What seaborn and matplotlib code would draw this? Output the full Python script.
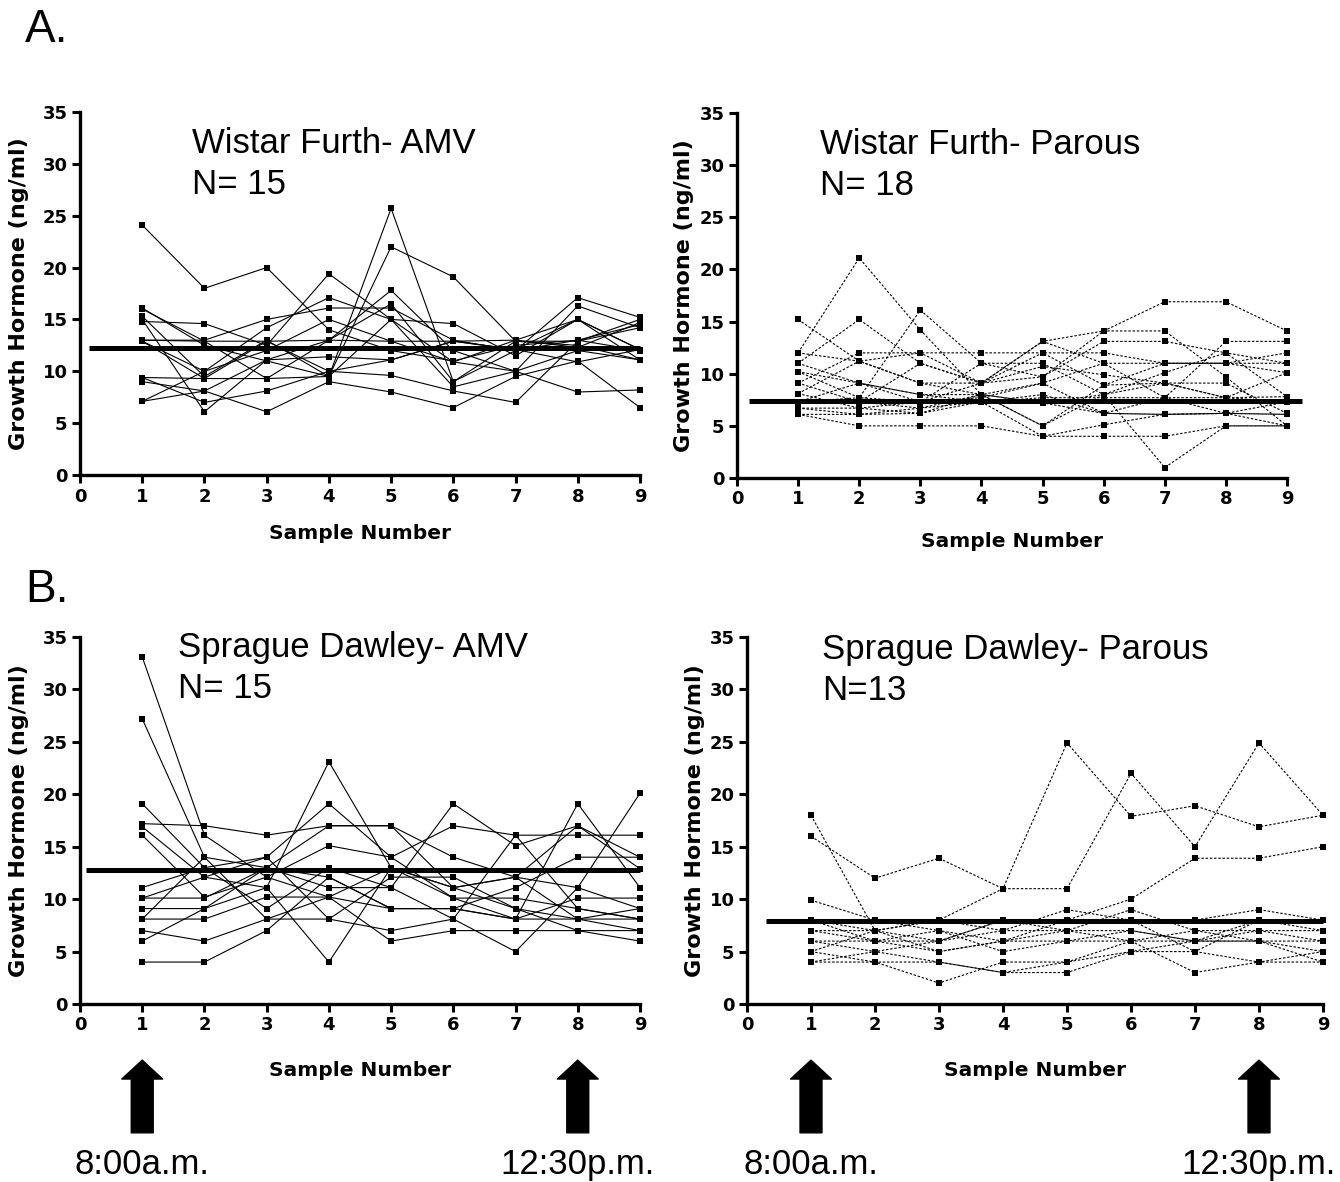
"""Growth hormone sampling profiles for Wistar Furth and Sprague Dawley rats."""
import matplotlib

matplotlib.use("Agg")
import matplotlib.pyplot as plt
import pandas as pd
import seaborn as sns

# ---------------------------------------------------------------- data
samples = [1, 2, 3, 4, 5, 6, 7, 8, 9]

wf_amv = [
    [24.1, 18.0, 20.0, 14.0, 12.0, 11.0, 12.5, 13.0, 12.0],
    [16.1, 12.5, 11.0, 9.5, 25.7, 9.0, 12.0, 13.0, 14.5],
    [15.3, 9.5, 13.0, 9.5, 22.0, 19.1, 12.9, 12.5, 11.1],
    [14.8, 14.6, 12.5, 19.4, 15.0, 8.5, 10.0, 16.3, 14.2],
    [13.0, 13.0, 15.0, 16.1, 16.1, 13.0, 12.0, 17.1, 15.2],
    [12.9, 10.0, 14.2, 17.1, 15.0, 14.6, 11.5, 15.0, 12.1],
    [9.4, 9.3, 9.3, 9.5, 15.0, 10.9, 13.0, 12.3, 14.7],
    [9.0, 8.1, 11.1, 13.0, 17.8, 12.0, 10.0, 12.0, 11.1],
    [7.1, 10.0, 12.0, 15.0, 12.9, 10.9, 10.0, 8.0, 8.2],
    [7.1, 8.1, 6.1, 9.0, 8.0, 6.5, 9.5, 11.0, 6.5],
    [15.0, 6.1, 11.1, 11.4, 11.1, 12.9, 12.1, 10.9, 12.1],
    [13.0, 12.9, 9.3, 13.0, 16.5, 9.0, 12.9, 12.9, 14.2],
    [9.4, 7.0, 8.1, 10.0, 9.6, 8.1, 7.0, 12.9, 15.0],
    [16.0, 12.9, 12.9, 13.0, 12.9, 12.9, 12.1, 15.0, 11.1],
    [12.9, 9.3, 12.9, 10.0, 11.1, 12.9, 13.0, 15.0, 12.1],
]

wf_parous = [
    [15.2, 11.2, 9.1, 8.0, 7.2, 6.2, 6.1, 6.2, 6.1],
    [12.0, 21.1, 14.2, 8.0, 5.0, 8.0, 10.1, 12.0, 11.0],
    [11.0, 15.2, 11.0, 9.1, 13.1, 14.1, 16.9, 16.9, 14.1],
    [10.2, 7.7, 16.1, 11.0, 9.7, 14.1, 14.1, 9.7, 5.0],
    [9.1, 12.0, 12.0, 12.0, 12.0, 8.9, 11.0, 11.0, 11.0],
    [8.1, 11.2, 9.1, 9.1, 10.7, 9.9, 9.1, 7.7, 10.1],
    [7.3, 9.1, 8.0, 8.0, 9.1, 6.2, 7.7, 13.1, 13.1],
    [6.7, 6.1, 6.2, 8.0, 7.2, 8.0, 1.0, 5.0, 5.0],
    [6.1, 5.0, 5.0, 5.0, 4.0, 4.0, 4.0, 5.0, 5.0],
    [7.3, 7.7, 7.3, 7.7, 9.1, 11.0, 11.0, 11.0, 10.1],
    [12.0, 11.2, 12.0, 9.1, 12.0, 12.0, 11.0, 11.0, 12.0],
    [6.7, 6.7, 6.2, 7.3, 8.0, 6.2, 6.1, 6.2, 6.1],
    [11.0, 9.1, 7.3, 11.0, 11.0, 8.0, 9.1, 9.1, 6.2],
    [9.1, 7.3, 6.7, 8.0, 5.0, 8.9, 9.1, 7.7, 7.3],
    [6.1, 6.1, 6.7, 7.3, 7.7, 7.7, 7.7, 6.2, 5.0],
    [7.3, 7.3, 11.0, 9.1, 9.7, 13.1, 13.1, 12.0, 7.8],
    [8.1, 6.7, 7.3, 9.1, 13.1, 11.0, 7.7, 7.7, 7.8],
    [10.2, 9.1, 8.0, 7.3, 4.0, 5.1, 6.1, 6.2, 7.3],
]

sd_amv = [
    [33.1, 16.1, 12.1, 10.2, 13.0, 11.1, 9.1, 8.1, 7.0],
    [27.2, 14.0, 13.0, 17.0, 17.0, 11.1, 12.1, 17.0, 14.0],
    [19.1, 13.0, 14.0, 19.1, 14.0, 10.1, 8.1, 19.1, 11.1],
    [17.2, 17.0, 16.1, 17.0, 17.0, 14.0, 12.1, 11.1, 9.1],
    [16.9, 12.1, 11.1, 23.1, 13.0, 10.1, 10.1, 9.1, 8.1],
    [16.1, 10.2, 12.1, 15.1, 14.0, 17.0, 16.1, 16.1, 16.1],
    [11.1, 13.0, 9.1, 13.0, 11.1, 19.1, 15.1, 17.0, 12.9],
    [10.1, 10.1, 13.0, 12.1, 9.1, 9.1, 11.1, 14.0, 14.0],
    [9.1, 9.1, 13.0, 11.1, 11.1, 8.1, 5.0, 11.1, 20.1],
    [8.1, 8.1, 10.2, 10.2, 9.1, 9.1, 8.1, 10.1, 10.1],
    [8.1, 14.0, 8.1, 8.1, 12.1, 12.1, 9.1, 7.0, 7.0],
    [7.0, 6.0, 8.1, 10.2, 6.0, 7.0, 7.0, 7.0, 6.0],
    [6.0, 9.1, 11.1, 4.0, 13.0, 11.1, 12.1, 8.1, 9.1],
    [4.0, 4.0, 7.0, 12.1, 9.1, 9.1, 8.1, 8.1, 8.1],
    [10.1, 12.1, 14.0, 8.1, 7.0, 8.1, 16.1, 9.1, 8.1],
]

sd_parous = [
    [16.0, 12.0, 13.9, 11.0, 11.0, 22.0, 15.0, 24.9, 18.0],
    [18.0, 7.0, 8.0, 11.0, 24.9, 17.9, 18.9, 16.9, 18.0],
    [9.9, 8.0, 7.0, 6.0, 8.0, 10.0, 13.9, 13.9, 15.0],
    [8.0, 7.0, 6.0, 7.0, 9.0, 8.0, 8.0, 9.0, 8.0],
    [7.0, 6.0, 5.0, 6.0, 7.0, 9.0, 7.0, 7.0, 7.0],
    [6.0, 5.0, 4.0, 3.0, 3.0, 5.0, 6.0, 7.0, 6.0],
    [5.0, 4.0, 2.0, 4.0, 4.0, 5.0, 5.0, 4.0, 4.0],
    [4.0, 4.0, 4.0, 3.0, 4.0, 6.0, 3.0, 4.0, 5.0],
    [6.0, 6.0, 7.0, 5.0, 6.0, 6.0, 6.0, 6.0, 6.0],
    [5.0, 7.0, 5.0, 6.0, 6.0, 7.0, 6.0, 8.0, 7.0],
    [7.0, 7.0, 8.0, 7.0, 7.0, 7.0, 6.0, 6.0, 5.0],
    [8.0, 6.0, 6.0, 8.0, 8.0, 8.0, 5.0, 8.0, 8.0],
    [4.0, 5.0, 6.0, 8.0, 7.0, 6.0, 7.0, 6.0, 4.0],
]

group_means = [12.2, 7.4, 12.8, 7.9]
group_titles = [
    "Wistar Furth- AMV\nN= 15",
    "Wistar Furth- Parous\nN= 18",
    "Sprague Dawley- AMV\nN= 15",
    "Sprague Dawley- Parous\nN=13",
]
panel_letters = ["A.", "B."]
arrow_samples = [1, 8]
arrow_labels = ["8:00a.m.", "12:30p.m."]
x_ticks = [0, 1, 2, 3, 4, 5, 6, 7, 8, 9]
y_ticks = [0, 5, 10, 15, 20, 25, 30, 35]


def to_long(profiles):
    rows = []
    for animal, values in enumerate(profiles):
        for sample, value in zip(samples, values):
            rows.append({"animal": animal, "sample": sample, "gh": value})
    return pd.DataFrame(rows)


# ---------------------------------------------------------------- layout
W, H = 1340, 1182
sns.set_style("ticks")
plt.rcParams.update({
    "font.family": ["DejaVu Sans"],
    "text.color": "black",
    "axes.labelcolor": "black",
    "axes.edgecolor": "black",
    "xtick.color": "black",
    "ytick.color": "black",
})
fig = plt.figure(figsize=(W / 100, H / 100), dpi=100)

# left, top, right, bottom in pixels
boxes = [(80, 112, 640, 475), (737, 113, 1287, 478), (80, 637, 640, 1004), (747, 637, 1323, 1004)]
panels = [
    dict(data=wf_amv, ls="-", mean_span=(0.15, 9.0), title_xy=(0.2, 0.958), ylab_x=-0.091, xlab_pad=13),
    dict(data=wf_parous, ls=(0, (2.2, 1.6)), mean_span=(0.2, 9.25), title_xy=(0.151, 0.958), ylab_x=-0.078, xlab_pad=17),
    dict(data=sd_amv, ls="-", mean_span=(0.1, 9.0), title_xy=(0.175, 1.016), ylab_x=-0.091, xlab_pad=19),
    dict(data=sd_parous, ls=(0, (2.2, 1.6)), mean_span=(0.3, 9.0), title_xy=(0.13, 1.01), ylab_x=-0.073, xlab_pad=19),
]

for i, (box, cfg) in enumerate(zip(boxes, panels)):
    l, t, r, b = box
    ax = fig.add_axes([l / W, 1 - b / H, (r - l) / W, (b - t) / H])
    df = to_long(cfg["data"])
    sns.lineplot(
        data=df, x="sample", y="gh", units="animal", estimator=None, ax=ax,
        color="black", linewidth=0.8, linestyle=cfg["ls"], marker="s",
        markersize=4.5, markeredgewidth=0, legend=False, clip_on=False,
    )
    x0, x1 = cfg["mean_span"]
    ax.plot([x0, x1], [group_means[i]] * 2, color="black", linewidth=3.6,
            solid_capstyle="butt", clip_on=False, zorder=5)

    ax.set_xlim(0, 9)
    ax.set_ylim(0, 35)
    ax.set_xticks(x_ticks)
    ax.set_yticks(y_ticks)
    for side in ["top", "right"]:
        ax.spines[side].set_visible(False)
    for side in ["left", "bottom"]:
        ax.spines[side].set_linewidth(2.4)
    ax.tick_params(width=2.2, length=6, pad=3, labelsize=13)
    for lab in ax.get_xticklabels() + ax.get_yticklabels():
        lab.set_fontweight("bold")
    ax.set_xlabel("Sample Number", fontsize=14.5, fontweight="bold",
                  labelpad=cfg["xlab_pad"])
    ax.set_ylabel("Growth Hormone (ng/ml)", fontsize=16, fontweight="bold")
    ax.yaxis.set_label_coords(cfg["ylab_x"], 0.5)
    ax.text(*cfg["title_xy"], group_titles[i], transform=ax.transAxes,
            ha="left", va="top", fontsize=25, family="Liberation Sans",
            linespacing=1.3)

    if i >= 2:
        for s, lab in zip(arrow_samples, arrow_labels):
            ax.annotate(
                "", xy=(s, -0.153), xycoords=("data", "axes fraction"),
                xytext=(s, -0.351), textcoords=("data", "axes fraction"),
                arrowprops=dict(arrowstyle="simple,head_length=0.68,head_width=1.47,tail_width=0.79",
                                fc="black", ec="black", shrinkA=0, shrinkB=0,
                                mutation_scale=20),
                annotation_clip=False,
            )
            ax.text(s, -0.437, lab, transform=ax.get_xaxis_transform(),
                    ha="center", va="center", fontsize=25,
                    family="Liberation Sans", clip_on=False)

for letter, ypx in zip(panel_letters, [30, 590]):
    fig.text(25 / W, 1 - ypx / H, letter, fontsize=33, family="Liberation Sans",
             va="center", ha="left")

fig.savefig("out.png", dpi=100)
